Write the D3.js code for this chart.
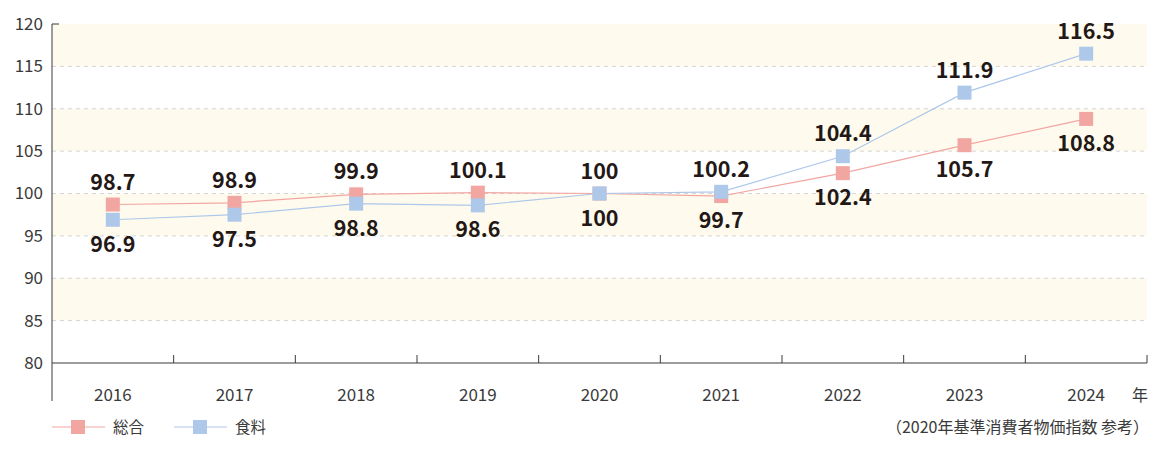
<!DOCTYPE html>
<html>
<head>
<meta charset="utf-8">
<script src="https://cdn.jsdelivr.net/npm/d3@7"></script>
<style>
  body { margin: 0; background: #fff; }
  svg, svg text { font-family: "Noto Sans CJK JP", "Noto Sans", sans-serif; }
</style>
</head>
<body>
<div id="chart"></div>
<script>
const years = ['2016', '2017', '2018', '2019', '2020', '2021', '2022', '2023', '2024'];
const sogo = [98.7, 98.9, 99.9, 100.1, 100, 99.7, 102.4, 105.7, 108.8];
const shokuryo = [96.9, 97.5, 98.8, 98.6, 100, 100.2, 104.4, 111.9, 116.5];
// label above (-1) or below (1) the marker
const sogoPos = [-1, -1, -1, -1, -1, 1, 1, 1, 1];
const shokuryoPos = [1, 1, 1, 1, 1, -1, -1, -1, -1];
const yTicks = [80, 85, 90, 95, 100, 105, 110, 115, 120];
const bands = [[85, 90], [95, 100], [105, 110], [115, 120]];

const width = 1153, height = 450;
const plotLeft = 52, plotRight = 1147, plotTop = 24, plotBottom = 363;

const svg = d3.select('#chart').append('svg')
  .attr('width', width)
  .attr('height', height);

const x = d3.scaleBand().domain(years).range([plotLeft, plotRight]);
const y = d3.scaleLinear().domain([80, 120]).range([plotBottom, plotTop]);

// cream bands
svg.selectAll('.band')
  .data(bands)
  .enter().append('rect')
  .attr('x', plotLeft)
  .attr('y', d => y(d[1]))
  .attr('width', plotRight - plotLeft)
  .attr('height', d => y(d[0]) - y(d[1]))
  .attr('fill', '#fefbee');

// dashed grid
svg.selectAll('.grid')
  .data(yTicks.filter(d => d > 80 && d < 120))
  .enter().append('line')
  .attr('x1', plotLeft).attr('x2', plotRight)
  .attr('y1', d => y(d)).attr('y2', d => y(d))
  .attr('stroke', '#d4d4d4')
  .attr('stroke-dasharray', '4,4');

// y axis
const yAxis = svg.append('g')
  .attr('transform', `translate(${plotLeft},0)`)
  .call(d3.axisLeft(y).tickValues(yTicks).tickSize(0).tickPadding(9));
yAxis.attr('font-family', null);
yAxis.select('.domain').remove();
yAxis.selectAll('text').attr('font-size', 17).attr('fill', '#3a3a3a');
svg.append('line')
  .attr('x1', plotLeft).attr('x2', plotLeft)
  .attr('y1', plotTop).attr('y2', 401)
  .attr('stroke', '#3a3a3a');
svg.append('line')
  .attr('x1', plotLeft).attr('x2', plotLeft + 7)
  .attr('y1', plotTop).attr('y2', plotTop)
  .attr('stroke', '#3a3a3a');

// x axis
svg.append('line')
  .attr('x1', plotLeft).attr('x2', plotRight)
  .attr('y1', plotBottom).attr('y2', plotBottom)
  .attr('stroke', '#3a3a3a');
svg.selectAll('.xtick')
  .data(years.slice(1).concat(['end']))
  .enter().append('line')
  .attr('x1', (d, i) => i < years.length - 1 ? x(d) : plotRight)
  .attr('x2', (d, i) => i < years.length - 1 ? x(d) : plotRight)
  .attr('y1', plotBottom).attr('y2', plotBottom - 8)
  .attr('stroke', '#3a3a3a');
svg.selectAll('.xlabel')
  .data(years)
  .enter().append('text')
  .attr('x', d => x(d) + x.bandwidth() / 2)
  .attr('y', 401)
  .attr('text-anchor', 'middle')
  .attr('font-size', 17)
  .attr('fill', '#3a3a3a')
  .text(d => d);
svg.append('text')
  .attr('x', 1140).attr('y', 401)
  .attr('text-anchor', 'middle')
  .attr('font-size', 16)
  .attr('fill', '#3a3a3a')
  .text('年');

const cx = d => x(d) + x.bandwidth() / 2;

function drawSeries(values, pos, color) {
  const pts = years.map((yr, i) => ({ yr: yr, v: values[i], p: pos[i] }));
  svg.append('path')
    .datum(pts)
    .attr('fill', 'none')
    .attr('stroke', color)
    .attr('stroke-width', 1.2)
    .attr('d', d3.line().x(d => cx(d.yr)).y(d => y(d.v)));
  svg.selectAll(null)
    .data(pts)
    .enter().append('rect')
    .attr('x', d => cx(d.yr) - 7)
    .attr('y', d => y(d.v) - 7)
    .attr('width', 14).attr('height', 14)
    .attr('fill', color);
  svg.selectAll(null)
    .data(pts)
    .enter().append('text')
    .attr('x', d => cx(d.yr))
    .attr('y', d => y(d.v) + (d.p < 0 ? -15 : 32))
    .attr('text-anchor', 'middle')
    .attr('font-size', 21.5)
    .attr('font-weight', 'bold')
    .attr('fill', '#231815')
    .text(d => d.v);
}

drawSeries(sogo, sogoPos, '#f2a6a2');
drawSeries(shokuryo, shokuryoPos, '#aec8ea');

// legend
const legend = [
  { name: '総合', color: '#f2a6a2', x0: 52 },
  { name: '食料', color: '#aec8ea', x0: 174 }
];
legend.forEach(l => {
  svg.append('line')
    .attr('x1', l.x0).attr('x2', l.x0 + 53)
    .attr('y1', 427).attr('y2', 427)
    .attr('stroke', l.color)
    .attr('stroke-width', 1.2);
  svg.append('rect')
    .attr('x', l.x0 + 19).attr('y', 420)
    .attr('width', 14).attr('height', 14)
    .attr('fill', l.color);
  svg.append('text')
    .attr('x', l.x0 + 61).attr('y', 433)
    .attr('font-size', 15.5)
    .attr('fill', '#3a3a3a')
    .text(l.name);
});
svg.append('text')
  .attr('x', 1149).attr('y', 433)
  .attr('text-anchor', 'end')
  .attr('font-size', 16)
  .attr('fill', '#3a3a3a')
  .text('（2020年基準消費者物価指数 参考）');
</script>
</body>
</html>
